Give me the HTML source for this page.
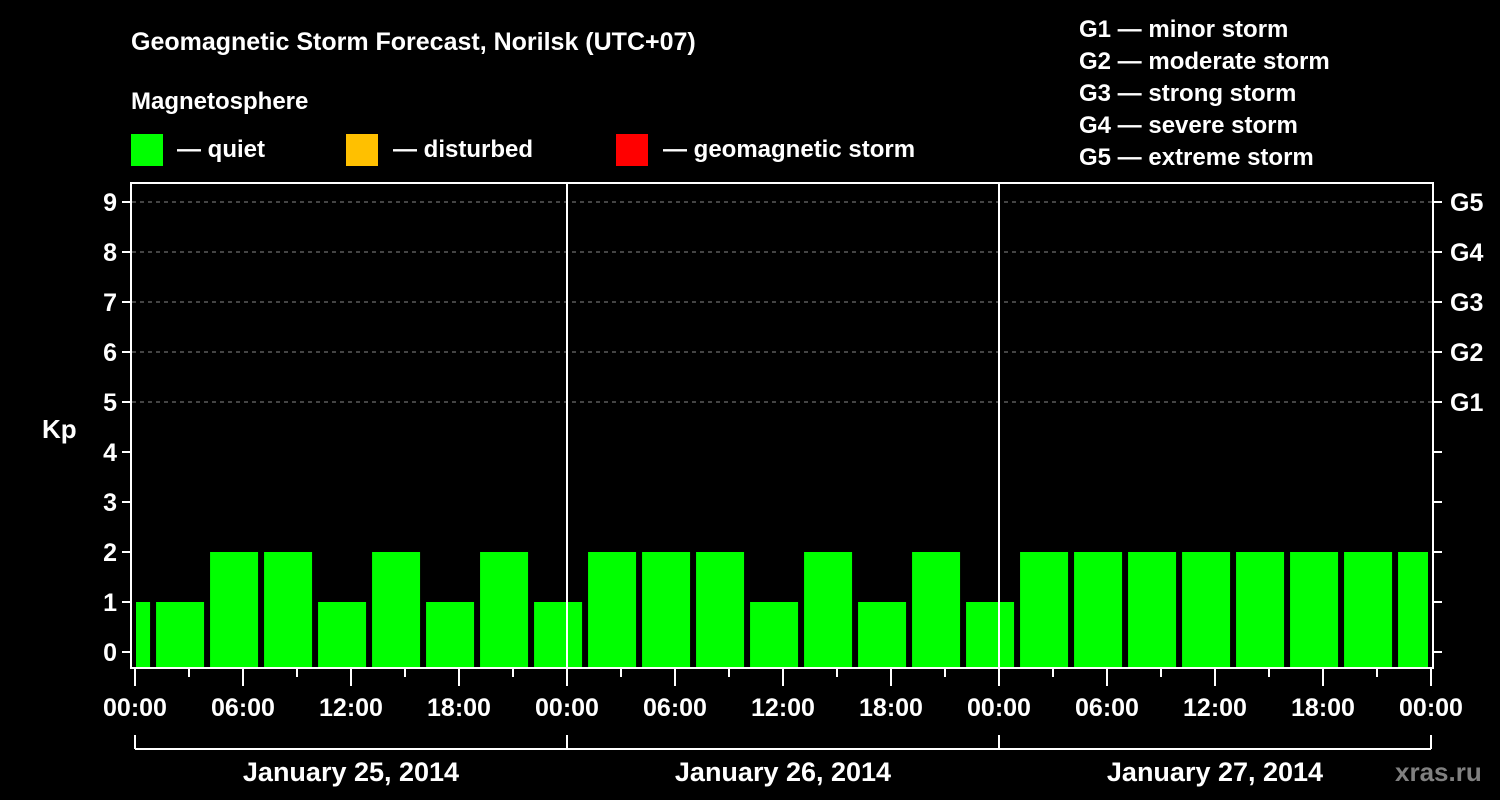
<!DOCTYPE html>
<html><head><meta charset="utf-8"><style>
body{margin:0;background:#000;}
svg{display:block;font-family:"Liberation Sans",sans-serif;font-weight:bold;}
</style></head><body>
<svg id="c" width="1500" height="800" xmlns="http://www.w3.org/2000/svg">
<text x="131" y="50" fill="#fff" font-size="25">Geomagnetic Storm Forecast, Norilsk (UTC+07)</text>
<text x="131" y="109" fill="#fff" font-size="24">Magnetosphere</text>
<rect x="131" y="134" width="32" height="32" fill="#00ff00"/>
<text x="177" y="157" fill="#fff" font-size="24">— quiet</text>
<rect x="346" y="134" width="32" height="32" fill="#ffc000"/>
<text x="393" y="157" fill="#fff" font-size="24">— disturbed</text>
<rect x="616" y="134" width="32" height="32" fill="#ff0000"/>
<text x="663" y="157" fill="#fff" font-size="24">— geomagnetic storm</text>
<g fill="#fff" font-size="24">
<text x="1079" y="37">G1 — minor storm</text>
<text x="1079" y="69">G2 — moderate storm</text>
<text x="1079" y="101">G3 — strong storm</text>
<text x="1079" y="133">G4 — severe storm</text>
<text x="1079" y="165">G5 — extreme storm</text>
</g>
<text x="42" y="438" fill="#fff" font-size="26">Kp</text>
<text x="1395" y="781" fill="#808080" font-size="26">xras.ru</text>
<g id="grid"></g><g id="bars"></g><g id="axes"></g>
</svg>
<script>
const kpValues=[1,1,2,2,1,2,1,2,1,2,2,2,1,2,1,2,1,2,2,2,2,2,2,2,2];
const yTicks=[0,1,2,3,4,5,6,7,8,9];
const gLabels=["","","","","","G1","G2","G3","G4","G5"];
const hourLabels=["00:00","06:00","12:00","18:00","00:00","06:00","12:00","18:00","00:00","06:00","12:00","18:00","00:00"];
const dayLabels=["January 25, 2014","January 26, 2014","January 27, 2014"];
const NS="http://www.w3.org/2000/svg";
const x0=135,hourPx=18,yBase=652,unit=50,clipL=136,clipR=1428;
const xs=h=>x0+h*hourPx, ys=v=>yBase-v*unit;
function mk(p,t,a,txt){const e=document.createElementNS(NS,t);for(const k in a)e.setAttribute(k,a[k]);if(txt!=null)e.textContent=txt;p.appendChild(e);return e;}
const grid=document.getElementById('grid'),bars=document.getElementById('bars'),axes=document.getElementById('axes');
yTicks.forEach((v,i)=>{
 if(v>=5){const l=mk(grid,'line',{x1:132,x2:1432,y1:ys(v),y2:ys(v),stroke:'#888','stroke-dasharray':'4 4','stroke-width':1});
 
 }
 const t=mk(axes,'text',{x:117,y:ys(v)+9,fill:'#fff','font-size':25,'text-anchor':'end'},String(v));
 
 
 mk(axes,'line',{x1:122,x2:131,y1:ys(v),y2:ys(v),stroke:'#fff','stroke-width':2});
 mk(axes,'line',{x1:1433,x2:1442,y1:ys(v),y2:ys(v),stroke:'#fff','stroke-width':2});
 if(gLabels[i]){const g=mk(axes,'text',{x:1450,y:ys(v)+9,fill:'#fff','font-size':25},gLabels[i]);
 
 }
});
kpValues.forEach((v,i)=>{
 let a=xs(3*i-1.83),b=a+48;a=Math.max(a,clipL);b=Math.min(b,clipR);
 const r=mk(bars,'rect',{x:a,y:ys(v),width:b-a,height:668-ys(v),fill:'#00ff00'});
 
 
});
mk(axes,'rect',{x:131,y:183,width:1302,height:485,fill:'none',stroke:'#fff','stroke-width':2});
[24,48].forEach(h=>mk(axes,'line',{x1:xs(h),x2:xs(h),y1:183,y2:668,stroke:'#fff','stroke-width':2}));
for(let h=0;h<=72;h+=3){mk(axes,'line',{x1:xs(h),x2:xs(h),y1:668,y2:h%6==0?686:677,stroke:'#fff','stroke-width':2});}
hourLabels.forEach((s,i)=>{const t=mk(axes,'text',{x:xs(6*i),y:716,fill:'#fff','font-size':25,'text-anchor':'middle'},s);
 
 });
mk(axes,'line',{x1:xs(0),x2:xs(72),y1:749,y2:749,stroke:'#fff','stroke-width':2});
[0,24,48,72].forEach(h=>mk(axes,'line',{x1:xs(h),x2:xs(h),y1:735,y2:749,stroke:'#fff','stroke-width':2}));
dayLabels.forEach((s,i)=>{const t=mk(axes,'text',{x:xs(24*i+12),y:781,fill:'#fff','font-size':27,'text-anchor':'middle'},s);
 
 });
</script>
</body></html>
